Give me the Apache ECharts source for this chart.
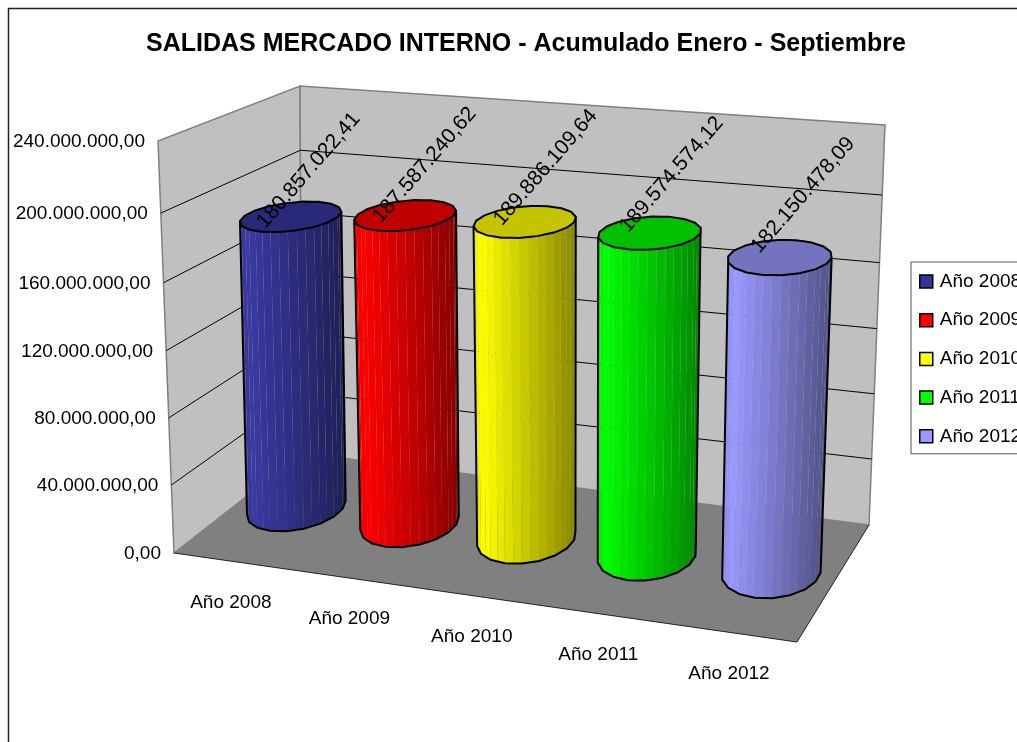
<!DOCTYPE html>
<html>
<head>
<meta charset="utf-8">
<style>
  html, body { margin: 0; padding: 0; background: #fff; overflow: hidden; }
  #main { width: 1017px; height: 742px; }
</style>
<script src="https://cdn.jsdelivr.net/npm/echarts@6/dist/echarts.min.js"></script>
</head>
<body>
<div id="main"></div>
<script>
var categories = ['Año 2008', 'Año 2009', 'Año 2010', 'Año 2011', 'Año 2012'];
var values = [180857022.41, 187587240.62, 189886109.64, 189574574.12, 182150478.09];
var yTicks = [0, 40000000, 80000000, 120000000, 160000000, 200000000, 240000000];
var sideColors = ['#3a3aa3', '#ff0000', '#ffff00', '#00ff00', '#9999ff'];
var topColors = ['#29297a', '#c00000', '#c4c400', '#00c000', '#7373bf'];

var FONT = '19px "Liberation Sans", Arial, sans-serif';

// esquinas de la caja 3D en pantalla: frente-izq, frente-der, fondo-der, fondo-izq
var floorQuad = [[174, 553], [797, 642], [869, 525], [302, 453]];
var topQuad = [[158, 141], [812, 193], [885, 125], [300, 86]];

function homography(q) {
  var dx1 = q[1][0] - q[2][0], dx2 = q[3][0] - q[2][0], sx = q[0][0] - q[1][0] + q[2][0] - q[3][0];
  var dy1 = q[1][1] - q[2][1], dy2 = q[3][1] - q[2][1], sy = q[0][1] - q[1][1] + q[2][1] - q[3][1];
  var den = dx1 * dy2 - dx2 * dy1;
  var g = (sx * dy2 - dx2 * sy) / den, h = (dx1 * sy - sx * dy1) / den;
  var a = q[1][0] - q[0][0] + g * q[1][0], b = q[3][0] - q[0][0] + h * q[3][0];
  var d = q[1][1] - q[0][1] + g * q[1][1], e = q[3][1] - q[0][1] + h * q[3][1];
  return function (u, w) {
    var n = g * u + h * w + 1;
    return [(a * u + b * w + q[0][0]) / n, (d * u + e * w + q[0][1]) / n];
  };
}
var floorMap = homography(floorQuad);
var topMap = homography(topQuad);

// u: a lo ancho, w: profundidad, t: altura, todo de 0 a 1
function project(u, w, t) {
  var p = floorMap(u, w), q = topMap(u, w);
  return [p[0] + (q[0] - p[0]) * t, p[1] + (q[1] - p[1]) * t];
}

// pasa del grid oculto de echarts a fracciones de la caja
function toUnit(params, api, cat, val) {
  var pt = api.coord([cat, val]);
  var r = params.coordSys;
  var t = (r.y + r.height - pt[1]) / r.height;
  // la perspectiva aprieta un poco la parte de abajo
  return { u: (pt[0] - r.x) / r.width, t: t - 0.072 * t * t * (1 - t) };
}

function money(v) {
  var parts = v.toFixed(2).split('.');
  return parts[0].replace(/\B(?=(\d{3})+$)/g, '.') + ',' + parts[1];
}

function shade(hex, k) {
  var n = parseInt(hex.slice(1), 16);
  var r = Math.round((n >> 16 & 255) * k), g = Math.round((n >> 8 & 255) * k), b = Math.round((n & 255) * k);
  return 'rgb(' + r + ',' + g + ',' + b + ')';
}

function renderBox(params, api) {
  var kids = [];
  var wall = { fill: '#c0c0c0', stroke: '#808080', lineWidth: 1.5 };
  kids.push({ type: 'polygon', shape: { points: [floorQuad[0], floorQuad[3], topQuad[3], topQuad[0]] }, style: wall });
  kids.push({ type: 'polygon', shape: { points: [floorQuad[3], floorQuad[2], topQuad[2], topQuad[3]] }, style: wall });

  yTicks.forEach(function (tick) {
    var t = toUnit(params, api, 0, tick).t;
    var a = project(0, 0, t), b = project(0, 1, t), c = project(1, 1, t);
    if (tick > 0 && tick < yTicks[yTicks.length - 1]) {
      kids.push({ type: 'polyline', shape: { points: [a, b, c] }, style: { fill: 'none', stroke: '#000', lineWidth: 1 } });
    }
    kids.push({
      type: 'text', x: a[0] - 13, y: a[1] + 1,
      style: { text: money(tick), align: 'right', verticalAlign: 'middle', font: FONT, fill: '#000' }
    });
  });

  kids.push({ type: 'polygon', shape: { points: floorQuad }, style: { fill: '#808080', stroke: 'none' } });
  kids.push({ type: 'polyline', shape: { points: [floorQuad[0], floorQuad[1], floorQuad[2]] }, style: { fill: 'none', stroke: '#222', lineWidth: 1 } });

  categories.forEach(function (name, i) {
    var p = project(toUnit(params, api, i, 0).u, 0, 0);
    kids.push({
      type: 'text', x: p[0] - 1, y: p[1] + 41,
      style: { text: name, align: 'center', verticalAlign: 'middle', font: FONT, fill: '#000' }
    });
  });
  return { type: 'group', children: kids };
}

var RU = 0.074, RW = 0.22, SIDES = 18, SUB = 2;

function renderCylinder(params, api) {
  var i = params.seriesIndex - 1;
  var info = toUnit(params, api, api.value(0), api.value(1));
  var ring = [], base = [], top = [], k, j;
  for (k = 0; k < SIDES; k++) {
    var ang = k / SIDES * Math.PI * 2 + 0.2;
    ring.push([info.u + RU * Math.cos(ang), 0.5 + RW * Math.sin(ang)]);
  }
  for (k = 0; k < SIDES; k++) {
    var p0 = ring[k], p1 = ring[(k + 1) % SIDES];
    for (j = 0; j < SUB; j++) {
      var f = j / SUB, uu = p0[0] + (p1[0] - p0[0]) * f, ww = p0[1] + (p1[1] - p0[1]) * f;
      base.push(project(uu, ww, 0));
      top.push(project(uu, ww, info.t));
    }
  }
  // silueta: extremos izquierdo y derecho de la base
  var n = base.length, li = 0, ri = 0;
  base.forEach(function (p, idx) {
    if (p[0] < base[li][0]) li = idx;
    if (p[0] > base[ri][0]) ri = idx;
  });
  // el tramo frontal va de izquierda a derecha por el lado de abajo
  var order = [], cur = li;
  while (cur !== ri) { order.push(cur); cur = (cur + 1) % n; }
  order.push(ri);
  var midIdx = order[Math.floor(order.length / 2)];
  if (base[midIdx][1] < (base[li][1] + base[ri][1]) / 2) {
    order = []; cur = li;
    while (cur !== ri) { order.push(cur); cur = (cur - 1 + n) % n; }
    order.push(ri);
  }

  var kids = [], span = base[ri][0] - base[li][0];
  for (k = 0; k < order.length - 1; k++) {
    var a = order[k], b = order[k + 1];
    var x = ((base[a][0] + base[b][0]) / 2 - base[li][0]) / span;
    var light = x < 0.08 ? 0.92 + x : 1 - 0.47 * (x - 0.08) / 0.92;
    kids.push({
      type: 'polygon',
      shape: { points: [base[a], base[b], top[b], top[a]] },
      style: { fill: shade(sideColors[i], light), stroke: 'none' }
    });
  }
  var outline = [top[li]].concat(order.map(function (o) { return base[o]; }), [top[ri]]);
  kids.push({ type: 'polyline', shape: { points: outline }, style: { fill: 'none', stroke: '#000', lineWidth: 2 } });
  kids.push({ type: 'polygon', shape: { points: top }, style: { fill: topColors[i], stroke: '#000', lineWidth: 2 } });

  var c = project(info.u, 0.5, info.t);
  kids.push({
    type: 'text', x: c[0] + 17 + 7 * info.u, y: c[1] - 46 - 20 * (info.u - 0.1), rotation: 49 * Math.PI / 180,
    style: { text: money(api.value(1)), align: 'center', verticalAlign: 'middle', font: '21px "Liberation Sans", Arial, sans-serif', fill: '#000' }
  });
  return { type: 'group', children: kids };
}

var series = [{
  type: 'custom', name: 'caja', renderItem: renderBox, data: [[0, 0]], silent: true, clip: false, z: 1
}];
categories.forEach(function (name, i) {
  series.push({
    type: 'custom', name: name, renderItem: renderCylinder, data: [[i, values[i]]],
    itemStyle: { color: i === 0 ? '#333399' : sideColors[i] }, clip: false, z: 2 + i
  });
});

var chart = echarts.init(document.getElementById('main'));
chart.setOption({
  animation: false,
  backgroundColor: '#fff',
  title: {
    text: 'SALIDAS MERCADO INTERNO - Acumulado Enero - Septiembre',
    left: 141, top: 27,
    textStyle: { fontFamily: '"Liberation Sans", Arial, sans-serif', fontSize: 25, fontWeight: 'bold', color: '#000' }
  },
  legend: {
    data: categories,
    orient: 'vertical',
    left: 911, top: 262,
    padding: [10, 30, 8, 8],
    itemWidth: 13, itemHeight: 13, itemGap: 19.7,
    selectedMode: false,
    icon: 'rect',
    backgroundColor: '#fff', borderColor: '#555', borderWidth: 1,
    itemStyle: { borderColor: '#000', borderWidth: 1.5 },
    textStyle: { fontFamily: '"Liberation Sans", Arial, sans-serif', fontSize: 19, color: '#000', padding: [0, 0, 0, 2] }
  },
  grid: { left: 100, top: 100, width: 700, height: 400 },
  xAxis: { type: 'category', data: categories, show: false },
  yAxis: { type: 'value', min: 0, max: 240000000, interval: 40000000, show: false },
  graphic: [{
    type: 'rect', z: -10, silent: true,
    shape: { x: 8.5, y: 8.5, width: 1100, height: 800 },
    style: { fill: 'none', stroke: '#222', lineWidth: 1.5 }
  }],
  series: series
});
</script>
</body>
</html>
